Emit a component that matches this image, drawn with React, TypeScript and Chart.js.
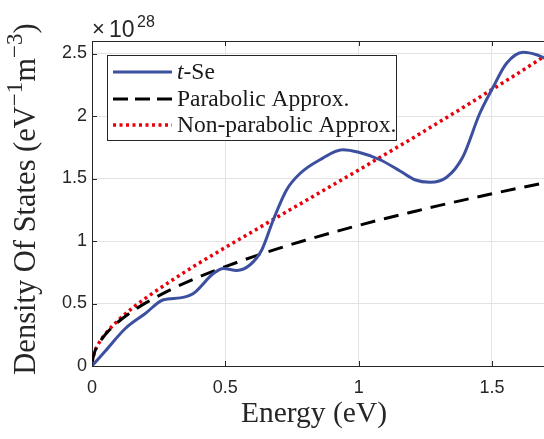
import React, { useEffect, useRef } from "react";
import { Chart, registerables } from "chart.js";

Chart.register(...registerables);

// ---- data ----
const tseEnergy = [0, 0.05, 0.125, 0.2, 0.268, 0.331, 0.38, 0.455, 0.493, 0.543, 0.593, 0.637, 0.68, 0.73, 0.78, 0.855, 0.94, 1.0, 1.08, 1.155, 1.21, 1.267, 1.33, 1.39, 1.454, 1.504, 1.554, 1.617, 1.667, 1.7];
const tseDos = [0, 0.12, 0.3, 0.42, 0.53, 0.545, 0.58, 0.74, 0.78, 0.765, 0.81, 0.93, 1.17, 1.41, 1.54, 1.65, 1.73, 1.71, 1.65, 1.56, 1.49, 1.47, 1.51, 1.67, 2.02, 2.23, 2.42, 2.51, 2.49, 2.46];

const approxEnergy = [0, 0.01, 0.025, 0.05, 0.1, 0.15, 0.2, 0.3, 0.4, 0.5, 0.6, 0.7, 0.8, 0.9, 1.0, 1.1, 1.2, 1.3, 1.4, 1.5, 1.6, 1.7];
const parabolicDos = [0.03, 0.113, 0.178, 0.252, 0.356, 0.436, 0.503, 0.616, 0.712, 0.795, 0.871, 0.941, 1.006, 1.067, 1.125, 1.18, 1.232, 1.283, 1.331, 1.378, 1.423, 1.467];
const nonParabolicDos = [0.03, 0.113, 0.18, 0.257, 0.369, 0.461, 0.541, 0.686, 0.821, 0.948, 1.073, 1.197, 1.32, 1.444, 1.568, 1.694, 1.82, 1.949, 2.079, 2.212, 2.345, 2.483];

const xTickValues = [0, 0.5, 1, 1.5];
const yTickValues = [0, 0.5, 1, 1.5, 2, 2.5];

const seriesLabels = ["t-Se", "Parabolic Approx.", "Non-parabolic Approx."];

const BLUE = "#3d4f9f";
const BLACK = "#000000";
const RED = "#e8000b";
const AXIS = "#262626";
const SERIF = "'Liberation Serif', 'Times New Roman', serif";
const SANS = "'Liberation Sans', Arial, sans-serif";

type Part = { t: string; sup?: boolean; italic?: boolean };

function drawRich(ctx: CanvasRenderingContext2D, parts: Part[], size: number, x: number, y: number, align: "left" | "center") {
  const fontFor = (p: Part) => `${p.italic ? "italic " : ""}${p.sup ? Math.round(size * 0.76) : size}px ${SERIF}`;
  let total = 0;
  for (const p of parts) {
    ctx.font = fontFor(p);
    total += ctx.measureText(p.t).width;
  }
  let cx = align === "center" ? x - total / 2 : x;
  ctx.textAlign = "left";
  ctx.textBaseline = "alphabetic";
  for (const p of parts) {
    ctx.font = fontFor(p);
    ctx.fillText(p.t, cx, p.sup ? y - size * 0.42 : y);
    cx += ctx.measureText(p.t).width;
  }
}

const fmt = (v: number | string) => String(Number(v));

const overlayPlugin = {
  id: "overlay",
  afterDatasetsDraw(chart: any) {
    const { ctx, chartArea: a, scales } = chart;
    ctx.save();
    ctx.strokeStyle = AXIS;
    ctx.lineWidth = 1;
    ctx.setLineDash([]);
    // top border
    ctx.beginPath();
    ctx.moveTo(a.left, a.top + 0.5);
    ctx.lineTo(a.right, a.top + 0.5);
    ctx.stroke();
    // inner ticks
    for (const v of xTickValues) {
      const px = Math.round(scales.x.getPixelForValue(v)) + 0.5;
      ctx.beginPath();
      ctx.moveTo(px, a.bottom);
      ctx.lineTo(px, a.bottom - 5);
      ctx.moveTo(px, a.top);
      ctx.lineTo(px, a.top + 5);
      ctx.stroke();
    }
    for (const v of yTickValues) {
      const py = Math.round(scales.y.getPixelForValue(v)) + 0.5;
      ctx.beginPath();
      ctx.moveTo(a.left, py);
      ctx.lineTo(a.left + 5, py);
      ctx.stroke();
    }

    // legend
    const lx = 107.5, ly = 55.5, lw = 289, lh = 85;
    ctx.fillStyle = "#ffffff";
    ctx.fillRect(lx, ly, lw, lh);
    ctx.strokeStyle = AXIS;
    ctx.lineWidth = 1;
    ctx.strokeRect(lx, ly, lw, lh);
    const rows = [72, 99, 125];
    const styles = [
      { color: BLUE, dash: [] as number[], width: 3 },
      { color: BLACK, dash: [15, 7], width: 3 },
      { color: RED, dash: [3, 3.5], width: 3.5 },
    ];
    rows.forEach((ry, i) => {
      const s = styles[i];
      ctx.strokeStyle = s.color;
      ctx.lineWidth = s.width;
      ctx.setLineDash(s.dash);
      ctx.beginPath();
      ctx.moveTo(113, ry);
      ctx.lineTo(172, ry);
      ctx.stroke();
    });
    ctx.setLineDash([]);
    ctx.fillStyle = "#1a1a1a";
    drawRich(ctx, [{ t: "t", italic: true }, { t: "-Se" }], 23.5, 177, rows[0] + 7, "left");
    drawRich(ctx, [{ t: seriesLabels[1] }], 23.5, 177, rows[1] + 7, "left");
    drawRich(ctx, [{ t: seriesLabels[2] }], 23.5, 177, rows[2] + 7, "left");
    ctx.restore();
  },
  afterDraw(chart: any) {
    const { ctx, chartArea: a } = chart;
    ctx.save();
    ctx.fillStyle = AXIS;
    // x10^28
    ctx.textAlign = "left";
    ctx.textBaseline = "alphabetic";
    ctx.font = `22px ${SANS}`;
    ctx.fillText("\u00d7", 92, 36);
    ctx.font = `23px ${SANS}`;
    ctx.fillText("10", 109, 37);
    ctx.font = `16px ${SANS}`;
    ctx.fillText("28", 137, 27);
    // x title
    ctx.fillStyle = "#262626";
    drawRich(ctx, [{ t: "Energy (eV)" }], 29.5, (a.left + a.right) / 2 - 4, 422, "center");
    // y title
    ctx.translate(35, 199);
    ctx.rotate(-Math.PI / 2);
    drawRich(
      ctx,
      [
        { t: "Density Of States (eV" },
        { t: "\u22121", sup: true },
        { t: "m" },
        { t: "\u22123", sup: true },
        { t: ")" },
      ],
      30.5,
      0,
      0,
      "center"
    );
    ctx.restore();
  },
};

export default function App() {
  const ref = useRef<HTMLCanvasElement | null>(null);
  useEffect(() => {
    if (!ref.current) return;
    const chart = new Chart(ref.current, {
      type: "line",
      data: {
        datasets: [
          {
            label: seriesLabels[0],
            data: tseEnergy.map((x, i) => ({ x, y: tseDos[i] })),
            borderColor: BLUE,
            borderWidth: 3,
            pointRadius: 0,
            cubicInterpolationMode: "monotone",
          },
          {
            label: seriesLabels[1],
            data: approxEnergy.map((x, i) => ({ x, y: parabolicDos[i] })),
            borderColor: BLACK,
            borderWidth: 3,
            borderDash: [15, 9],
            pointRadius: 0,
            cubicInterpolationMode: "monotone",
          },
          {
            label: seriesLabels[2],
            data: approxEnergy.map((x, i) => ({ x, y: nonParabolicDos[i] })),
            borderColor: RED,
            borderWidth: 3.5,
            borderDash: [3, 3.5],
            pointRadius: 0,
            cubicInterpolationMode: "monotone",
          },
        ],
      },
      options: {
        responsive: false,
        animation: false,
        devicePixelRatio: 1,
        layout: { padding: { left: 0, top: 41, right: 0, bottom: 0 } },
        plugins: { legend: { display: false }, tooltip: { enabled: false } },
        scales: {
          x: {
            type: "linear",
            min: 0,
            max: 1.695,
            afterFit: (s: any) => {
              s.height = 73;
            },
            afterBuildTicks: (s: any) => {
              s.ticks = xTickValues.map((v) => ({ value: v }));
            },
            ticks: { color: AXIS, font: { family: SANS, size: 18 }, padding: 11, maxRotation: 0, callback: fmt },
            grid: { color: "#e3e3e3", drawTicks: false },
            border: { display: true, color: AXIS, width: 1 },
          },
          y: {
            type: "linear",
            min: 0,
            max: 2.6,
            afterFit: (s: any) => {
              s.width = 92;
            },
            afterBuildTicks: (s: any) => {
              s.ticks = yTickValues.map((v) => ({ value: v }));
            },
            ticks: { color: AXIS, font: { family: SANS, size: 18 }, padding: 5, callback: fmt },
            grid: { color: "#e3e3e3", drawTicks: false },
            border: { display: true, color: AXIS, width: 1 },
          },
        },
      },
      plugins: [overlayPlugin],
    } as any);
    return () => chart.destroy();
  }, []);
  return (
    <div style={{ position: "absolute", left: 0, top: 0, width: 544, height: 439, background: "#fff" }}>
      <canvas ref={ref} width={544} height={439} style={{ display: "block" }} />
    </div>
  );
}
